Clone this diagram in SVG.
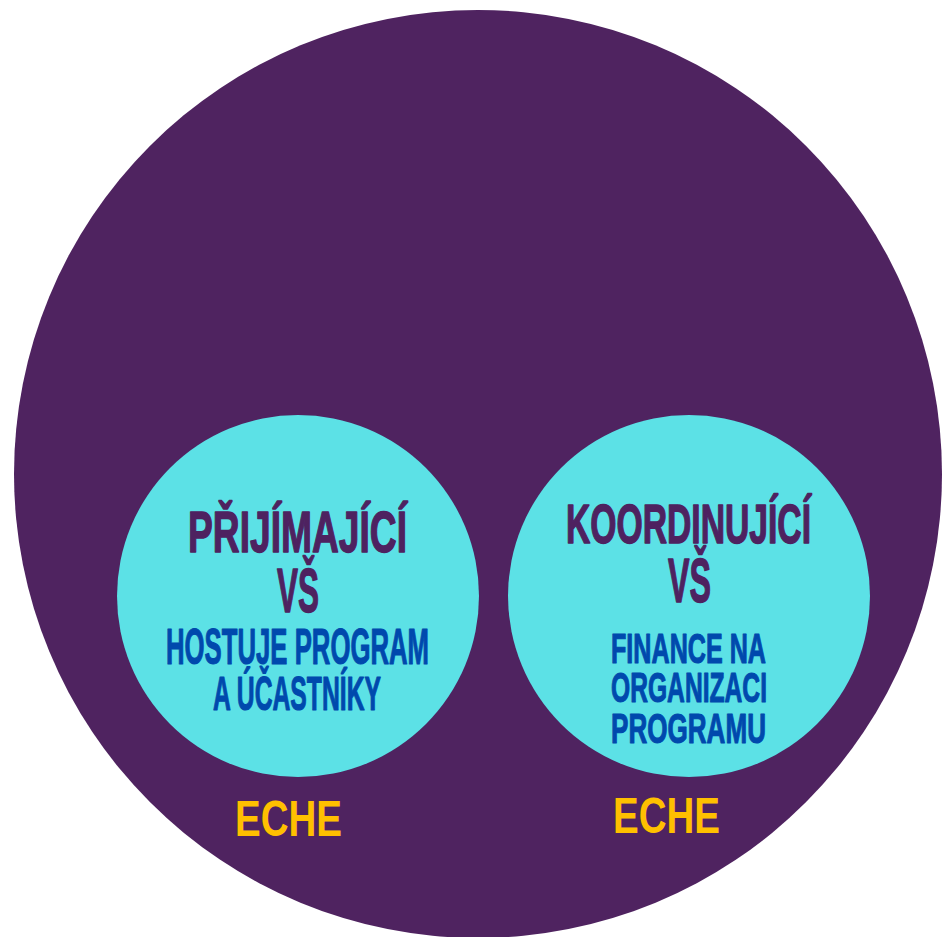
<svg xmlns="http://www.w3.org/2000/svg" width="943" height="937" viewBox="0 0 943 937">
<style>
.t{font-family:"Liberation Sans",Arial,sans-serif;font-weight:bold;text-anchor:middle}
.title{fill:#4e2260;stroke:#4e2260;stroke-width:1.4;stroke-linejoin:round}
.sub{fill:#0049ad;stroke:#0049ad;stroke-width:1.1;stroke-linejoin:round}
.eche{fill:#ffc000}
.inner{fill:#5ce1e6}
</style>
<rect width="943" height="937" fill="#ffffff"/>
<g id="outer">
<circle cx="478" cy="474" r="464" fill="#4f2360"/>
</g>
<g id="connectors"></g>
<g id="node-prijimajici">
<circle class="inner" cx="298" cy="596" r="181"/>
<text class="t title" x="297.5" y="552" font-size="58" textLength="219" lengthAdjust="spacingAndGlyphs">PŘIJÍMAJÍCÍ</text>
<text class="t title" x="298" y="612" font-size="63" textLength="42" lengthAdjust="spacingAndGlyphs">VŠ</text>
<text class="t sub" x="297.5" y="664" font-size="50" textLength="263" lengthAdjust="spacingAndGlyphs">HOSTUJE PROGRAM</text>
<text class="t sub" x="297" y="710" font-size="49" textLength="168" lengthAdjust="spacingAndGlyphs">A ÚČASTNÍKY</text>
</g>
<g id="node-koordinujici">
<circle class="inner" cx="689" cy="596" r="181"/>
<text class="t title" x="688.5" y="543" font-size="56" textLength="245" lengthAdjust="spacingAndGlyphs">KOORDINUJÍCÍ</text>
<text class="t title" x="689.5" y="602" font-size="63" textLength="43" lengthAdjust="spacingAndGlyphs">VŠ</text>
<text class="t sub" x="688.5" y="663" font-size="43" textLength="155" lengthAdjust="spacingAndGlyphs">FINANCE NA</text>
<text class="t sub" x="689" y="702" font-size="43" textLength="156" lengthAdjust="spacingAndGlyphs">ORGANIZACI</text>
<text class="t sub" x="688.5" y="743" font-size="43" textLength="155" lengthAdjust="spacingAndGlyphs">PROGRAMU</text>
</g>
<g id="label-eche-left">
<text class="t eche" x="288.5" y="836" font-size="50" textLength="107" lengthAdjust="spacingAndGlyphs">ECHE</text>
</g>
<g id="label-eche-right">
<text class="t eche" x="666.5" y="833" font-size="50" textLength="107" lengthAdjust="spacingAndGlyphs">ECHE</text>
</g>
</svg>
